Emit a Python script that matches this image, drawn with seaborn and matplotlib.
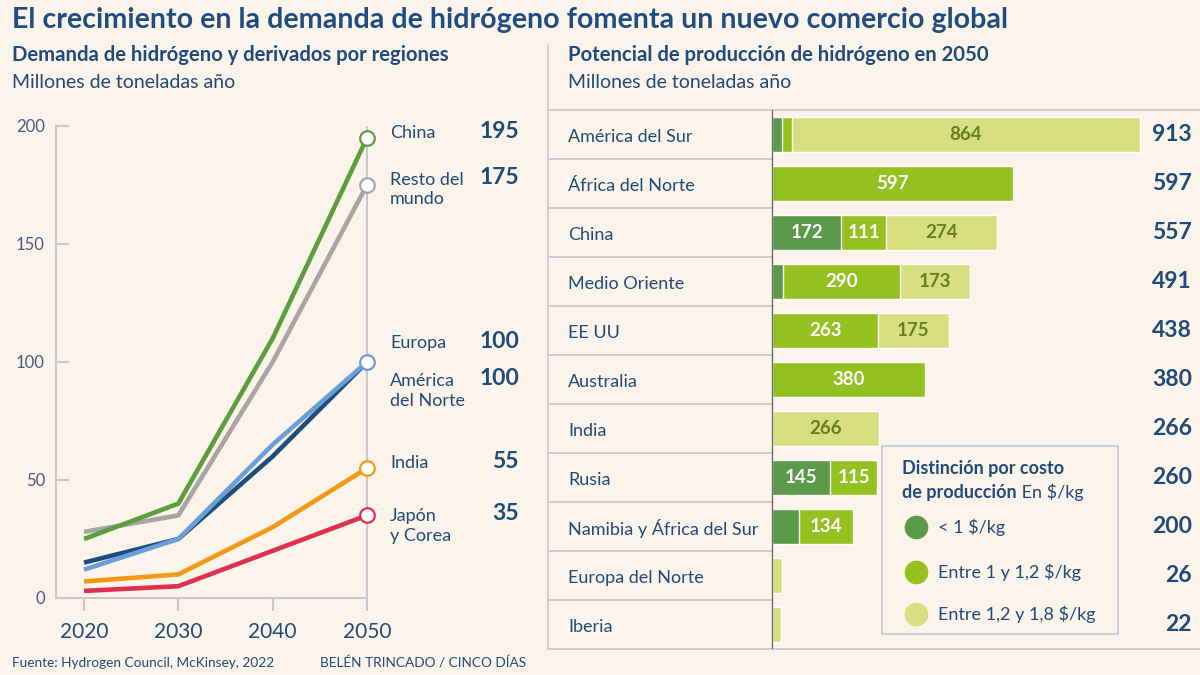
import numpy as np
import pandas as pd
import matplotlib
matplotlib.use("Agg")
import matplotlib.pyplot as plt
import seaborn as sns
import matplotlib.transforms as mtransforms
from matplotlib.patches import Rectangle
from matplotlib.lines import Line2D

# ---------------- data ----------------
years = [2020, 2030, 2040, 2050]
left_regions = ["China", "Resto del mundo", "Europa", "América del Norte", "India", "Japón y Corea"]
china = [25, 40, 110, 195]
resto = [28, 35, 100, 175]
europa = [12, 25, 65, 100]
am_norte = [15, 25, 60, 100]
india = [7, 10, 30, 55]
japon = [3, 5, 20, 35]
left_labels = ["China", "Resto del\nmundo", "Europa", "América\ndel Norte", "India", "Japón\ny Corea"]
left_values_2050 = [195, 175, 100, 100, 55, 35]

bar_regions = ["América del Sur", "África del Norte", "China", "Medio Oriente", "EE UU",
               "Australia", "India", "Rusia", "Namibia y África del Sur",
               "Europa del Norte", "Iberia"]
cost_lt1 = [25, 0, 172, 28, 0, 0, 0, 145, 66, 0, 0]
cost_1_12 = [24, 597, 111, 290, 263, 380, 0, 115, 134, 0, 0]
cost_12_18 = [864, 0, 274, 173, 175, 0, 266, 0, 0, 26, 22]
totals = [913, 597, 557, 491, 438, 380, 266, 260, 200, 26, 22]
legend_labels = ["< 1 \\$/kg", "Entre 1 y 1,2 \\$/kg", "Entre 1,2 y 1,8 \\$/kg"]

# ---------------- style ----------------
BG = "#fcf4ea"
NAVY = "#1f4a7c"
TICK = "#4a5786"
GRID = "#cbc7cf"
line_colors = {"China": "#5a9e3e", "Resto del mundo": "#a8a5a3", "Europa": "#6a9fd8",
               "América del Norte": "#1d4d7e", "India": "#f29b12", "Japón y Corea": "#e0304f"}
DARK, MED, LIGHT = "#5b9a48", "#94c11f", "#d8df80"
OLIVE = "#66801f"

sns.set_theme(style="white")
plt.rcParams["font.family"] = ["Lato", "DejaVu Sans"]

W, H = 1200, 675
fig = plt.figure(figsize=(12, 6.75), dpi=100, facecolor=BG)


def px(x, y):
    return x / W, 1 - y / H


# ---------------- titles ----------------
fig.text(*px(12, 20), "El crecimiento en la demanda de hidrógeno fomenta un nuevo comercio global",
         fontsize=20.6, fontweight="bold", color="#1e4d82", va="center", ha="left")
fig.text(*px(12, 55), "Demanda de hidrógeno y derivados por regiones",
         fontsize=14.6, fontweight="bold", color=NAVY, va="center")
fig.text(*px(12, 82), "Millones de toneladas año", fontsize=14, color=NAVY, va="center")
fig.text(*px(568, 55), "Potencial de producción de hidrógeno en 2050",
         fontsize=14.6, fontweight="bold", color=NAVY, va="center")
fig.text(*px(568, 82), "Millones de toneladas año", fontsize=14, color=NAVY, va="center")
fig.text(*px(12, 663), "Fuente: Hydrogen Council, McKinsey, 2022", fontsize=9.8, color=NAVY, va="center")
fig.text(*px(320, 663), "BELÉN TRINCADO / CINCO DÍAS", fontsize=9.8, color=NAVY, va="center")

# divider line between panels
fig.add_artist(Line2D([548 / W, 548 / W], [1 - 45 / H, 1 - 649 / H], color=GRID, lw=1.2))

# ---------------- left chart ----------------
ax1 = fig.add_axes([56 / W, 1 - 598 / H, 324 / W, 472 / H])
ax1.set_facecolor(BG)
series = {"China": china, "Resto del mundo": resto, "Europa": europa,
          "América del Norte": am_norte, "India": india, "Japón y Corea": japon}
df = pd.DataFrame([{"year": y, "value": v, "region": r}
                   for r, vals in series.items() for y, v in zip(years, vals)])
draw_order = ["Resto del mundo", "China", "América del Norte", "Europa", "India", "Japón y Corea"]
px_per_year = (367 - 84) / 30
ax1.set_xlim(2020 - 28 / px_per_year, 2050 + 13 / px_per_year)
ax1.set_ylim(0, 200)
ax1.axvline(2050, color=GRID, lw=1.5, zorder=1)
sns.lineplot(data=df, x="year", y="value", hue="region", hue_order=draw_order,
             palette=line_colors, linewidth=3.3, legend=False, ax=ax1, zorder=3)
for line in ax1.get_lines():
    line.set_solid_capstyle("butt")
    line.set_solid_joinstyle("round")
for r in ["China", "Resto del mundo", "Europa", "India", "Japón y Corea"]:
    sns.scatterplot(x=[years[-1]], y=[series[r][-1]], color="white", edgecolor=line_colors[r],
                    s=110, linewidth=1.6, zorder=5, ax=ax1, clip_on=False)
ax1.set_xlabel("")
ax1.set_ylabel("")
for s in ["top", "right"]:
    ax1.spines[s].set_visible(False)
ax1.spines["left"].set_color(GRID)
ax1.spines["left"].set_linewidth(1.5)
ax1.spines["bottom"].set_color(GRID)
ax1.spines["bottom"].set_linewidth(1.5)
ax1.spines["bottom"].set_bounds(ax1.get_xlim()[0], 2050)
ax1.set_yticks([0, 50, 100, 150, 200])
ax1.set_xticks(years)
ax1.tick_params(axis="y", direction="in", length=9, width=1.5, color=GRID,
                labelsize=12, labelcolor=TICK, pad=8, left=True)
ax1.tick_params(axis="x", direction="out", length=9, width=1.5, color=GRID,
                labelsize=15, labelcolor=NAVY, pad=8, bottom=True)

label_y = [133, 189.5, 343, 391, 463, 526]
value_y = [132, 177, 341, 378, 462, 513]
for lab, val, ly, vy in zip(left_labels, left_values_2050, label_y, value_y):
    fig.text(*px(390, ly), lab, fontsize=13, color=NAVY, va="center", ha="left", linespacing=1.3)
    fig.text(*px(519, vy), str(val), fontsize=16.5, fontweight="bold", color=NAVY,
             va="center", ha="right")

# ---------------- right chart ----------------
ax2 = fig.add_axes([548 / W, 1 - 649 / H, 652 / W, 539 / H])
ax2.set_facecolor(BG)
ppu = (1141 - 773) / 913

lt1 = np.array(cost_lt1)
m12 = np.array(cost_1_12)
l18 = np.array(cost_12_18)
cum1 = lt1
cum2 = lt1 + m12
cum3 = lt1 + m12 + l18
bdf = pd.DataFrame({"region": bar_regions, "c1": cum1, "c2": cum2, "c3": cum3})
for col, colr in [("c3", LIGHT), ("c2", MED), ("c1", DARK)]:
    sns.barplot(data=bdf, x=col, y="region", orient="h", color=colr, saturation=1,
                width=0.71, errorbar=None, ax=ax2, zorder=3)
ax2.set_ylim(10.5, -0.5)
ax2.set_xlim(-(772 - 548) / ppu, (1200 - 772) / ppu)
ax2.set_xlabel("")
ax2.set_ylabel("")
ax2.set_xticks([])
ax2.set_yticks([])
for s in ax2.spines.values():
    s.set_visible(False)

blend = mtransforms.blended_transform_factory(ax2.transAxes, ax2.transData)
label_frac = (772 - 548) / 652
for i, name in enumerate(bar_regions):
    ax2.text(20 / 652, i + 0.05, name, transform=blend, fontsize=13, color=NAVY,
             va="center", ha="left")
    ax2.text(644 / 652, i, str(totals[i]), transform=blend, fontsize=16.5, fontweight="bold",
             color=NAVY, va="center", ha="right")
    starts = [0, cum1[i], cum2[i]]
    vals = [lt1[i], m12[i], l18[i]]
    tcolors = ["white", "white", OLIVE]
    for st, v, tc in zip(starts, vals, tcolors):
        if v >= 100:
            ax2.text(st + v / 2, i, str(v), fontsize=13.5, fontweight="bold", color=tc,
                     va="center", ha="center", zorder=5)
for k in range(1, len(bar_regions)):
    ax2.plot([0, label_frac], [k - 0.5, k - 0.5], transform=blend, color=GRID, lw=1.3, zorder=2)
ax2.plot([0, 1], [-0.5, -0.5], transform=blend, color=GRID, lw=1.3, clip_on=False)
ax2.plot([0, 1], [10.5, 10.5], transform=blend, color=GRID, lw=1.3, clip_on=False)
ax2.axvline(0, color="#6b6b6b", lw=1.0, zorder=4)

# ---------------- legend ----------------
x0, y0 = px(882, 634)
fig.add_artist(Rectangle((x0, y0), 236 / W, 188 / H, transform=fig.transFigure,
                         facecolor=BG, edgecolor="#c9cbdb", lw=1.3, zorder=10))
fig.text(*px(902, 474), "Distinción por costo", fontsize=13, fontweight="bold",
         color=NAVY, va="baseline", zorder=11)
t_bold = fig.text(*px(902, 498), "de producción", fontsize=13, fontweight="bold",
                  color=NAVY, va="baseline", zorder=11)
fig.canvas.draw()
bb = t_bold.get_window_extent(renderer=fig.canvas.get_renderer())
fig.text(bb.x1 / fig.bbox.width, px(0, 498)[1], " En \\$/kg", fontsize=13, color=NAVY,
         va="baseline", ha="left", zorder=11)
for lab, colr, yy in zip(legend_labels, [DARK, MED, LIGHT], [527, 572, 614]):
    fx, fy = px(916, yy)
    fig.add_artist(Line2D([fx], [fy], marker="o", markersize=16, color=colr, lw=0,
                          transform=fig.transFigure, zorder=11))
    fig.text(*px(938, yy), lab, fontsize=13, color=NAVY, va="center", zorder=11)

fig.savefig("out.png", dpi=100, facecolor=BG)
